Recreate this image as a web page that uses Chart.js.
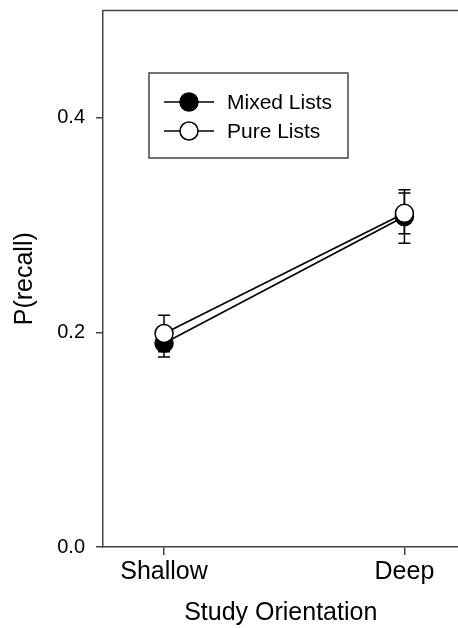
<!DOCTYPE html>
<html>
<head>
<meta charset="utf-8">
<script src="https://cdn.jsdelivr.net/npm/chart.js@4/dist/chart.umd.min.js"></script>
<style>
  html, body { margin: 0; padding: 0; background: #fff; overflow: hidden; }
  #wrap { width: 458px; height: 628px; overflow: hidden; }
</style>
</head>
<body>
<div id="wrap"><canvas id="c" width="469" height="628"></canvas></div>
<script>
// data
const categories = ['Shallow', 'Deep'];
const seriesNames = ['Mixed Lists', 'Pure Lists'];
const mixedValues = [0.190, 0.308];
const mixedErrors = [0.013, 0.025];
const pureValues = [0.199, 0.311];
const pureErrors = [0.017, 0.019];
const yTicks = [0.0, 0.2, 0.4];

const AXIS = '#444';

// error bars under the markers
const errorBars = {
  id: 'errorBars',
  beforeDatasetsDraw(chart) {
    const ctx = chart.ctx;
    const x = chart.scales.x, y = chart.scales.y;
    ctx.save();
    ctx.strokeStyle = '#000';
    ctx.lineWidth = 1.5;
    chart.data.datasets.forEach(ds => {
      ds.data.forEach((p, i) => {
        const px = x.getPixelForValue(p.x);
        const top = y.getPixelForValue(p.y + ds.errors[i]);
        const bot = y.getPixelForValue(p.y - ds.errors[i]);
        ctx.beginPath();
        ctx.moveTo(px, top); ctx.lineTo(px, bot);
        ctx.moveTo(px - 6, top); ctx.lineTo(px + 6, top);
        ctx.moveTo(px - 6, bot); ctx.lineTo(px + 6, bot);
        ctx.stroke();
      });
    });
    ctx.restore();
  }
};

// top frame line + boxed legend
const frameLegend = {
  id: 'frameLegend',
  afterDraw(chart) {
    const ctx = chart.ctx;
    const a = chart.chartArea;
    ctx.save();
    ctx.strokeStyle = AXIS;
    ctx.lineWidth = 1.5;
    ctx.beginPath();
    ctx.moveTo(a.left, a.top);
    ctx.lineTo(a.right, a.top);
    ctx.stroke();

    // legend box
    ctx.strokeRect(149, 73, 199, 85);
    const rows = [102, 131];
    chart.data.datasets.forEach((ds, i) => {
      const yy = rows[i];
      ctx.strokeStyle = '#000';
      ctx.lineWidth = 1.5;
      ctx.beginPath();
      ctx.moveTo(164, yy); ctx.lineTo(214, yy);
      ctx.stroke();
      ctx.beginPath();
      ctx.arc(189, yy, 9, 0, Math.PI * 2);
      ctx.fillStyle = ds.pointBackgroundColor;
      ctx.fill();
      ctx.stroke();
      ctx.fillStyle = '#000';
      ctx.font = '21px "Liberation Sans", Arial, sans-serif';
      ctx.textBaseline = 'middle';
      ctx.fillText(ds.label, 227, yy + 1);
    });
    ctx.restore();
  }
};

const mkData = (vals) => vals.map((v, i) => ({ x: i, y: v }));

new Chart(document.getElementById('c'), {
  type: 'line',
  data: {
    datasets: [
      {
        label: seriesNames[0],
        data: mkData(mixedValues),
        errors: mixedErrors,
        borderColor: '#000',
        borderWidth: 1.7,
        pointRadius: 9,
        pointBorderWidth: 1.5,
        pointBackgroundColor: '#000',
        pointBorderColor: '#000',
        order: 1
      },
      {
        label: seriesNames[1],
        data: mkData(pureValues),
        errors: pureErrors,
        borderColor: '#000',
        borderWidth: 1.7,
        pointRadius: 9,
        pointBorderWidth: 1.5,
        pointBackgroundColor: '#fff',
        pointBorderColor: '#000',
        order: 0
      }
    ]
  },
  options: {
    responsive: false,
    animation: false,
    layout: { padding: { left: 10, right: 0, top: 9, bottom: 0 } },
    plugins: { legend: { display: false }, tooltip: { enabled: false } },
    scales: {
      x: {
        type: 'linear',
        min: -0.254,
        max: 1.225,
        afterBuildTicks(scale) { scale.ticks = categories.map((c, i) => ({ value: i })); },
        afterFit(scale) {
          scale.height = 81;
          scale.paddingLeft = 0;
          scale.paddingRight = 0;
        },
        ticks: {
          callback: (v) => categories[v],
          color: '#000',
          font: { family: '"Liberation Sans", Arial, sans-serif', size: 25 },
          padding: 2,
          maxRotation: 0
        },
        grid: { drawOnChartArea: false, drawTicks: true, tickLength: 8, color: AXIS, lineWidth: 1.5 },
        border: { display: true, color: AXIS, width: 1.5 },
        title: {
          display: true,
          text: 'Study Orientation',
          color: '#000',
          font: { family: '"Liberation Sans", Arial, sans-serif', size: 25 },
          padding: 0
        }
      },
      y: {
        min: 0,
        max: 0.5,
        afterBuildTicks(scale) { scale.ticks = yTicks.map(v => ({ value: v })); },
        afterFit(scale) {
          scale.width = 93;
          scale.paddingTop = 0;
          scale.paddingBottom = 0;
        },
        ticks: {
          callback: (v) => v.toFixed(1),
          color: '#000',
          font: { family: '"Liberation Sans", Arial, sans-serif', size: 20 },
          padding: 11
        },
        grid: { drawOnChartArea: false, drawTicks: true, tickLength: 7, color: AXIS, lineWidth: 1.5 },
        border: { display: true, color: AXIS, width: 1.5 },
        title: {
          display: true,
          text: 'P(recall)',
          color: '#000',
          font: { family: '"Liberation Sans", Arial, sans-serif', size: 25 },
          padding: 0
        }
      }
    }
  },
  plugins: [errorBars, frameLegend]
});
</script>
</body>
</html>
